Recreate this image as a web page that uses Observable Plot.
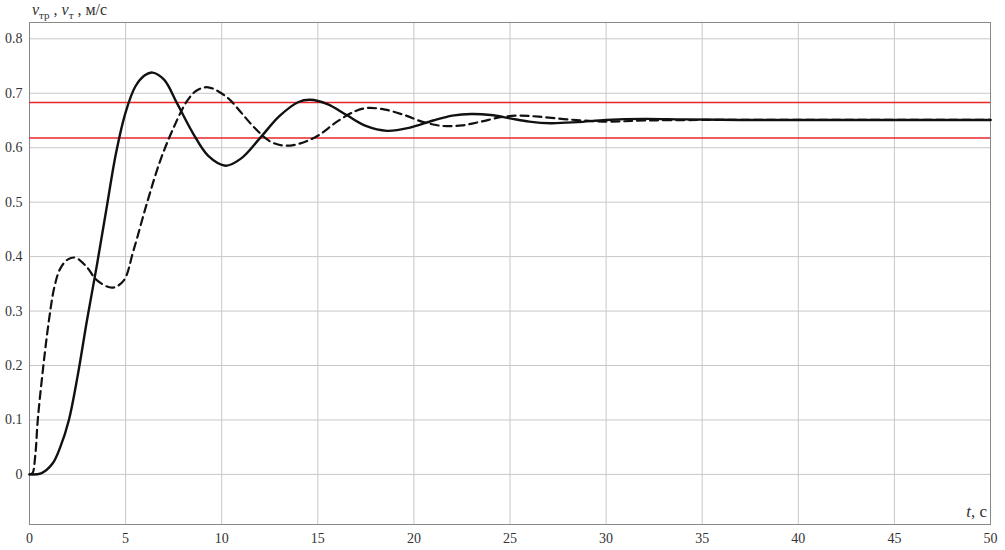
<!DOCTYPE html>
<html>
<head>
<meta charset="utf-8">
<script src="https://cdn.jsdelivr.net/npm/d3@7"></script>
<script src="https://cdn.jsdelivr.net/npm/@observablehq/plot@0.6"></script>
<style>
  html, body { margin: 0; padding: 0; background: #fff; }
  #chart { position: relative; width: 1005px; height: 550px; }
  #chart svg text { font-family: 'Liberation Serif', 'Times New Roman', 'DejaVu Serif', serif !important; }
</style>
</head>
<body>
<div id="chart"></div>
<script>
// Solid curve (v_тр)
const tSolid = [0, 0.6, 1.2, 1.6, 2.05, 2.5, 3.0, 3.5, 4.0, 4.5, 5.0, 5.5, 6.0, 6.4, 7.0, 7.7, 8.5, 9.3, 10.2, 11.0, 12.0, 13.0, 14.0, 14.6, 15.5, 16.5, 17.5, 18.6, 19.8, 21.0, 22.0, 23.0, 24.0, 25.0, 26.0, 27.1, 28.5, 30.0, 32.0, 34.0, 37.0, 40, 45, 50];
const vSolid = [0, 0.002, 0.02, 0.05, 0.10, 0.18, 0.285, 0.383, 0.487, 0.59, 0.665, 0.712, 0.733, 0.738, 0.725, 0.68, 0.627, 0.585, 0.567, 0.58, 0.618, 0.658, 0.684, 0.688, 0.68, 0.66, 0.64, 0.631, 0.637, 0.650, 0.659, 0.662, 0.660, 0.654, 0.648, 0.645, 0.647, 0.651, 0.653, 0.652, 0.651, 0.651, 0.651, 0.651];
// Dashed curve (v_т)
const tDashed = [0, 0.15, 0.3, 0.43, 0.66, 1.0, 1.3, 1.6, 2.0, 2.4, 3.0, 3.5, 4.3, 4.9, 5.4, 6.1, 6.8, 7.5, 8.2, 8.7, 9.3, 10.3, 11.0, 11.7, 12.5, 13.2, 14.0, 15.0, 16.0, 17.0, 17.6, 18.5, 19.5, 20.5, 21.5, 22.5, 23.5, 24.5, 25.5, 26.5, 28.0, 30.0, 32.0, 35.0, 40, 50];
const vDashed = [0, 0.002, 0.035, 0.10, 0.18, 0.28, 0.345, 0.378, 0.395, 0.398, 0.38, 0.357, 0.343, 0.356, 0.41, 0.497, 0.576, 0.637, 0.686, 0.705, 0.711, 0.692, 0.665, 0.637, 0.612, 0.604, 0.607, 0.622, 0.648, 0.668, 0.673, 0.67, 0.66, 0.647, 0.64, 0.641, 0.648, 0.656, 0.659, 0.657, 0.652, 0.648, 0.650, 0.651, 0.651, 0.651];
// ±5% band
const bandLevels = [0.618, 0.683];
const xTicks = [0, 5, 10, 15, 20, 25, 30, 35, 40, 45, 50];
const yTicks = [0, 0.1, 0.2, 0.3, 0.4, 0.5, 0.6, 0.7, 0.8];

const solid = tSolid.map((t, i) => ({t, v: vSolid[i]}));
const dashed = tDashed.map((t, i) => ({t, v: vDashed[i]}));

const serif = "'Liberation Serif', 'Times New Roman', 'DejaVu Serif', serif";

const plot = Plot.plot({
  width: 1005,
  height: 550,
  marginLeft: 29,
  marginRight: 15,
  marginTop: 22,
  marginBottom: 26,
  style: {fontFamily: serif, fontSize: "14px", color: "#333", background: "#fff"},
  x: {domain: [0, 50]},
  y: {domain: [-0.092, 0.83]},
  marks: [
    Plot.gridX(xTicks, {stroke: "#c8c8c8", strokeOpacity: 1, strokeWidth: 1}),
    Plot.gridY(yTicks, {stroke: "#c8c8c8", strokeOpacity: 1, strokeWidth: 1}),
    Plot.frame({stroke: "#888", strokeWidth: 1}),
    Plot.axisX(xTicks, {tickSize: 0, tickPadding: 9, fontSize: 14, fontFamily: serif, fill: "#333", label: null, tickFormat: d => String(d)}),
    Plot.axisY(yTicks, {tickSize: 0, tickPadding: 7, fontSize: 14, fontFamily: serif, fill: "#333", label: null, tickFormat: d => d === 0 ? "0" : d3.format(".1f")(d)}),
    Plot.ruleY(bandLevels, {stroke: "#e8262a", strokeWidth: 1.5}),
    Plot.line(dashed, {x: "t", y: "v", stroke: "#111", strokeWidth: 2.2, strokeDasharray: "8,5", curve: "catmull-rom"}),
    Plot.line(solid, {x: "t", y: "v", stroke: "#111", strokeWidth: 2.4, curve: "catmull-rom"})
  ]
});

document.getElementById("chart").appendChild(plot);

// Axis titles with subscripts and italics
const svg = d3.select(plot);
const yl = svg.append("text")
  .attr("x", 32).attr("y", 15).attr("text-anchor", "start")
  .style("font-family", serif).style("font-size", "16px").attr("fill", "#333");
yl.append("tspan").style("font-style", "italic").text("v");
yl.append("tspan").style("font-size", "11px").attr("dy", 4).text("тр");
yl.append("tspan").attr("dy", -4).text(" , ");
yl.append("tspan").style("font-style", "italic").text("v");
yl.append("tspan").style("font-size", "11px").attr("dy", 4).text("т");
yl.append("tspan").attr("dy", -4).text(" , м/с");

const xl = svg.append("text")
  .attr("x", 987).attr("y", 517).attr("text-anchor", "end")
  .style("font-family", serif).style("font-size", "17px").attr("fill", "#333");
xl.append("tspan").style("font-style", "italic").text("t");
xl.append("tspan").text(", с");
</script>
</body>
</html>
